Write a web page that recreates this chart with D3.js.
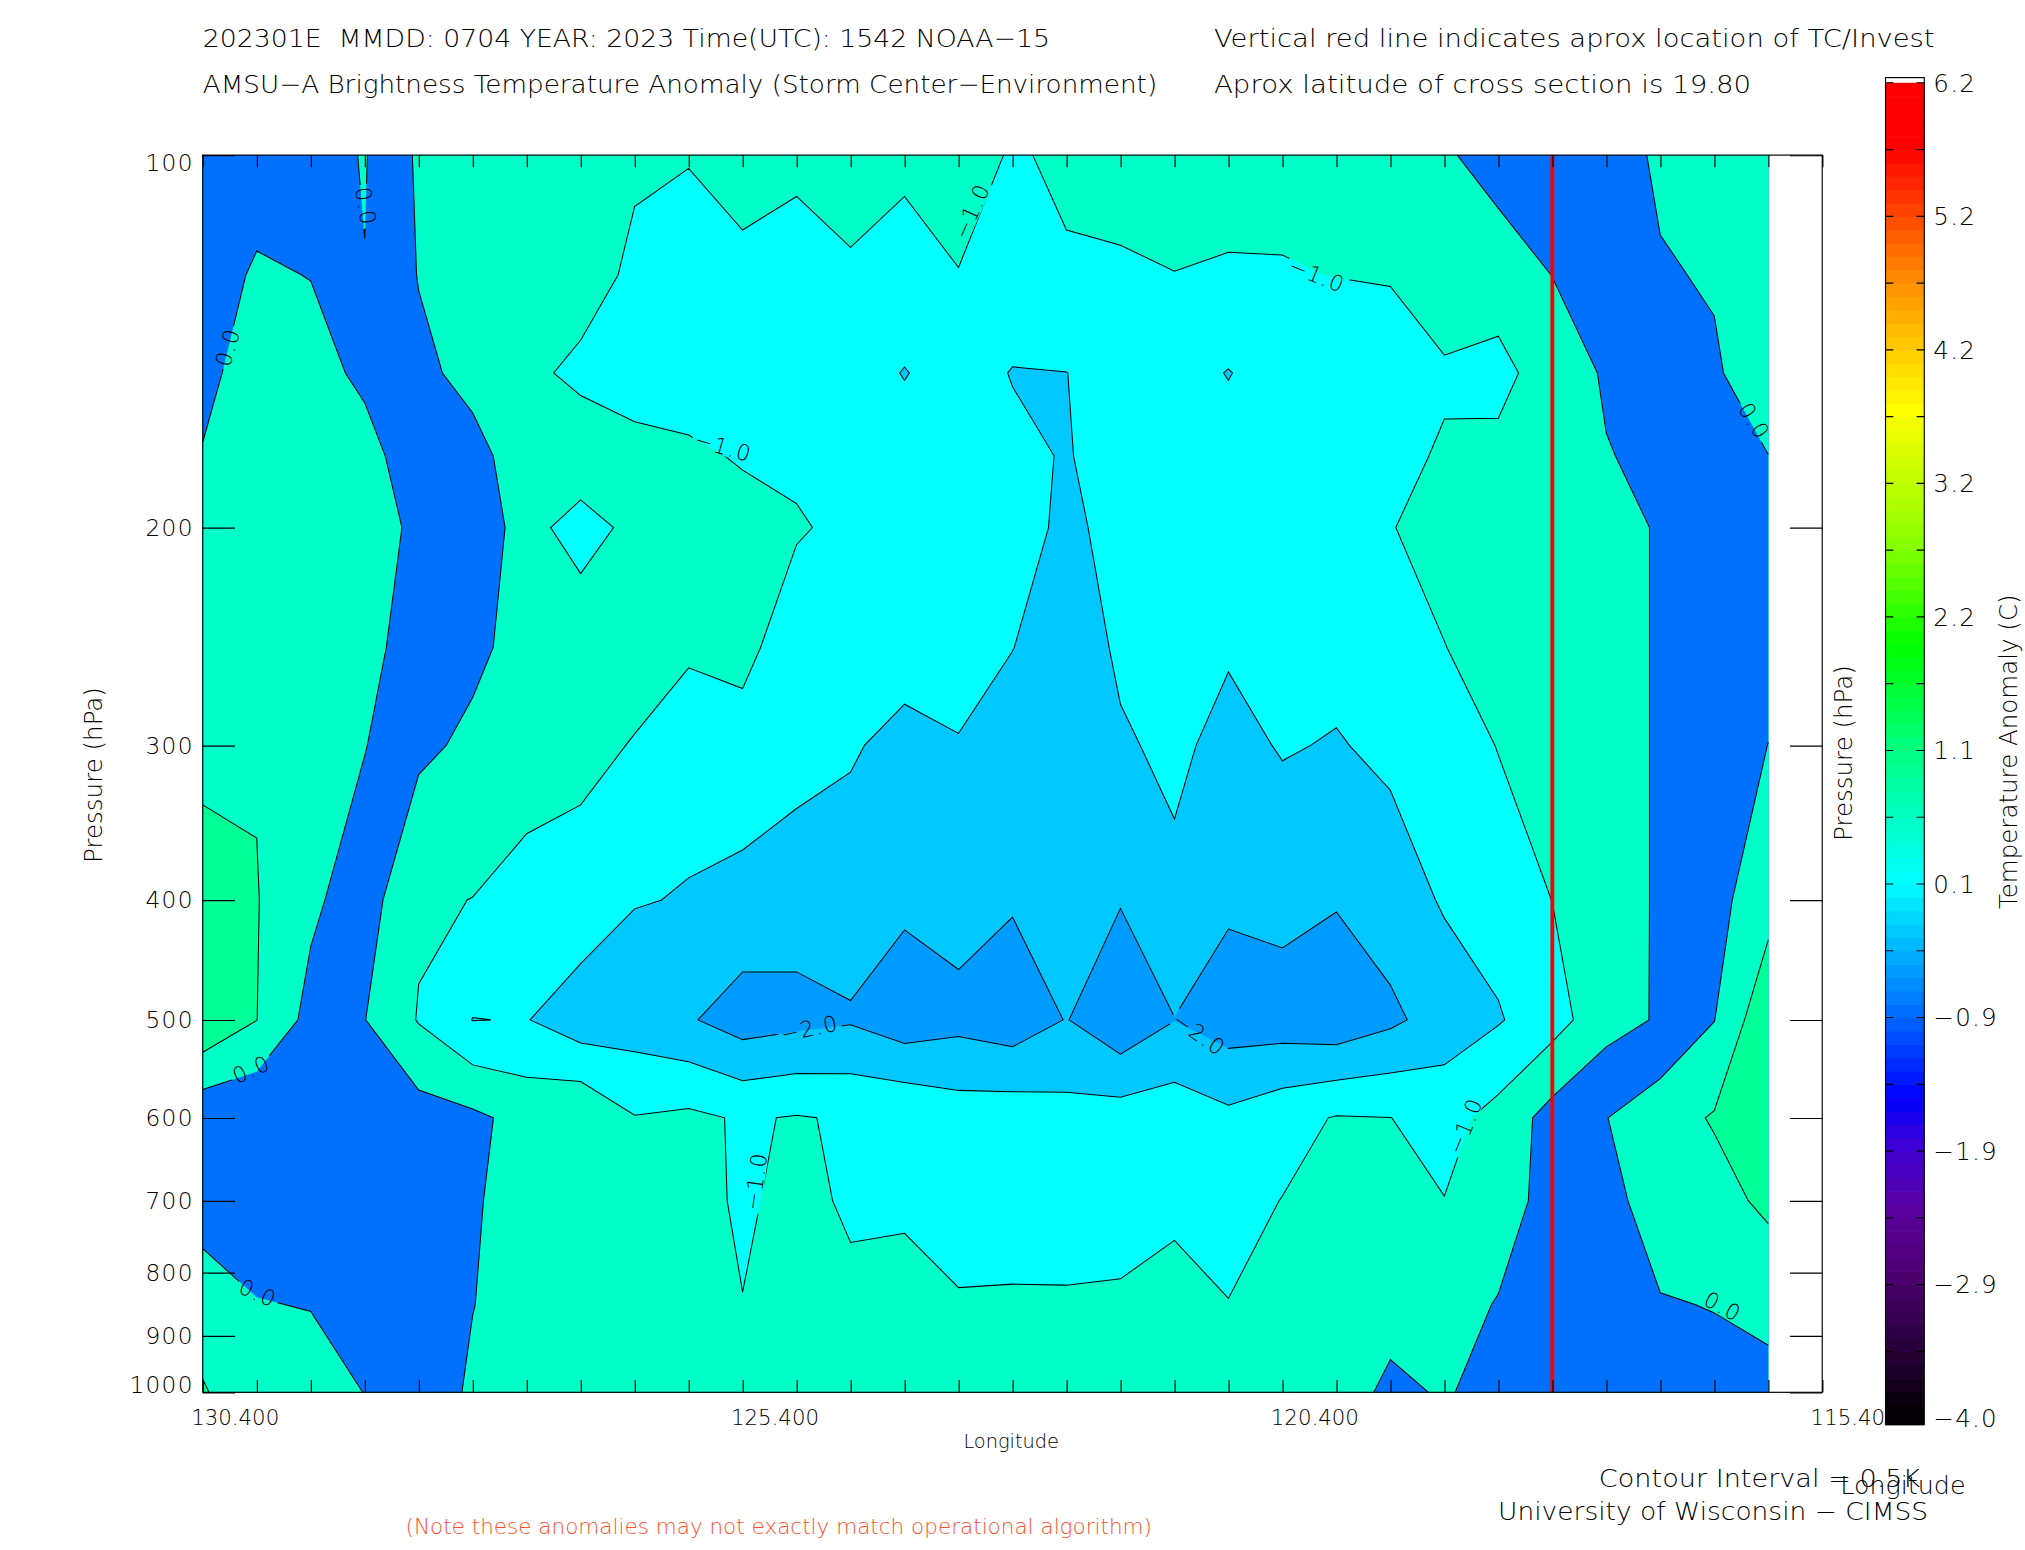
<!DOCTYPE html>
<html>
<head>
<meta charset="utf-8">
<script src="https://cdn.jsdelivr.net/npm/d3@7"></script>
<style>
  body { margin: 0; background: #fff; }
  text { font-family: "DejaVu Sans", sans-serif; font-weight: 200; fill: #000; }
</style>
</head>
<body>
<div id="chart"></div>
<script>
// ---- datos ----

const lons = [130.4, 129.9, 129.4, 128.9, 128.4, 127.9, 127.4, 126.9, 126.4, 125.9,
              125.4, 124.9, 124.4, 123.9, 123.4, 122.9, 122.4, 121.9, 121.4, 120.9,
              120.4, 119.9, 119.4, 118.9, 118.4, 117.9, 117.4, 116.9, 116.4, 115.9]

const levels = [100, 125, 150, 175, 200, 250, 300, 400, 500, 600, 700, 850, 1000]

// anomaly (C) per level, west -> east across the lons above
const anom100  = [-0.3,-0.2,-0.2,0.03,-0.57,-0.7,-0.75,-0.85,-0.9,-0.97,-0.85,-0.9,-0.8,-0.9,-0.85,-1.03,-0.95,-0.9,-0.85,-0.85,-0.85,-0.85,-0.85,-0.6,-0.18,-0.3,-0.3,0.1,0.2,0.3]
const anom125  = [-0.2,0.05,-0.01,-0.013,-0.52,-0.65,-0.78,-0.7,-1.133,-1.24,-1.09,-1.19,-1.06,-1.19,-1.01,-1.2,-1.03,-1.033,-1.005,-1.035,-1.03,-0.99,-0.98,-0.55,-0.9,-0.49,-0.4,-0.05,0.05,0.3]
const anom150  = [-0.05,0.089,0.15,-0.084,-0.395,-0.634,-0.85,-1.15,-1.2,-1.3,-1.3,-1.3,-1.3,-1.52,-1.3,-1.52,-1.505,-1.3,-1.3,-1.52,-1.25,-1.35,-1.15,-1.1,-1.06,-0.9,-0.42,-0.3,-0.07,0.34]
const anom175  = [0.01,0.2,0.25,0.15,-0.245,-0.355,-0.736,-0.6,-0.86,-0.9,-1.05,-1.1,-1.3,-1.3,-1.35,-1.4,-1.53,-1.3,-1.35,-1.3,-1.3,-1.3,-1.2,-0.92,-0.95,-0.8,-0.53,-0.35,-0.3,-0.005]
const anom200  = [0.2,0.3,0.3,0.22,-0.099,-0.05,-0.8,-1.25,-0.84,-0.8,-0.8,-0.95,-1.12,-1.3,-1.35,-1.3,-1.6,-1.35,-1.4,-1.35,-1.35,-1.3,-1.02,-0.82,-0.8,-0.8,-0.7,-0.45,-0.3,-0.2]
const anom250  = [0.3,0.4,0.35,0.1,-0.15,-0.4,-0.663,-0.6,-0.85,-0.9,-0.85,-1.3,-1.3,-1.3,-1.4,-1.49,-1.8,-1.42,-1.45,-1.45,-1.4,-1.35,-1.3,-1.01,-0.8,-0.85,-0.7,-0.45,-0.3,-0.15]
const anom300  = [0.375,0.47,0.3,0.02,-0.4,-0.596,-0.8,-0.9,-1.02,-1.38,-1.207,-1.3,-1.45,-1.645,-1.514,-1.75,-1.85,-1.558,-1.4,-1.65,-1.464,-1.533,-1.396,-1.3,-0.98,-0.9,-0.7,-0.45,-0.3,0.005]
const anom400  = [0.7,0.52,0.1,-0.28,-0.93,-1.008,-1.15,-1.16,-1.48,-1.52,-1.64,-1.79,-1.74,-1.9,-1.786,-1.95,-1.95,-1.97,-1.61,-1.92,-1.827,-1.961,-1.755,-1.45,-1.3,-0.995,-0.7,-0.45,-0.15,0.3]
const anom500  = [0.934,0.505,-0.158,-0.49,-1.03,-1.51,-1.48,-1.8,-1.75,-1.95,-2.24,-2.14,-2.05,-2.3,-2.155,-2.3,-1.98,-2.4,-2.01,-2.25,-2.26,-2.35,-2.1,-1.78,-1.54,-1.2,-0.687,-0.45,-0.01,0.9]
const anom600  = [-0.382,-0.45,-0.3,-0.2,-0.29,-0.4,-0.66,-0.53,-0.98,-0.9,-1.05,-0.97,-1.05,-1.05,-1.245,-1.21,-1.33,-1.26,-1.21,-1.39,-1.17,-0.97,-0.995,-1.17,-0.83,-0.31,-0.01,0.3,0.54,0.8]
const anom700  = [-0.3,-0.3,-0.35,-0.2,-0.2,-0.45,-0.7,-0.7,-0.7,-0.75,-1.1,-0.8,-1.1,-1.15,-1.2,-1.2,-1.2,-1.2,-1.1,-1.15,-0.99,-0.8,-0.8,-0.99,-0.75,-0.3,-0.1,0.15,0.33,0.6]
const anom850  = [0.352,0.024,-0.02,-0.15,-0.2,-0.49,-0.7,-0.7,-0.7,-0.7,-0.986,-0.7,-0.85,-0.67,-0.96,-0.95,-0.953,-0.933,-0.837,-0.99,-0.75,-0.75,-0.7,-0.7,-0.47,-0.3,-0.3,-0.02,0.01,0.145]
const anom1000 = [0.526,0.3,0.25,-0.01,-0.2,-0.575,-0.75,-0.75,-0.75,-0.7,-0.75,-0.7,-0.75,-0.75,-0.75,-0.75,-0.75,-0.75,-0.75,-0.75,-0.75,-0.77,-0.38,-0.55,-0.3,-0.3,-0.3,-0.3,-0.1,-0.17]

const anomaly = [anom100, anom125, anom150, anom175, anom200, anom250, anom300,
                 anom400, anom500, anom600, anom700, anom850, anom1000]

const thresholds = [-2.0, -1.5, -1.0, -0.5, 0.0, 0.5]
const bandColors = ["#009bff", "#00c8ff", "#00ffff", "#00ffc8", "#0070ff", "#00ffc8", "#00ff96"]

const xMajor = [130.4, 125.4, 120.4, 115.4]
const yTicks = [100, 200, 300, 400, 500, 600, 700, 800, 900, 1000]
const stormLon = 117.9

const barLabels = ["6.2", "5.2", "4.2", "3.2", "2.2", "1.1", "0.1", "−0.9", "−1.9", "−2.9", "−4.0"]
const barStops = [[-4.0,"#000000"],[-3.4,"#2c0040"],[-2.9,"#4e0070"],[-2.4,"#5a00a0"],[-1.9,"#3c00d8"],
                  [-1.55,"#0000ff"],[-0.9,"#006eff"],[0.1,"#00ffff"],[1.1,"#00ff82"],[1.9,"#00ff00"],
                  [2.7,"#8cff00"],[3.7,"#ffff00"],[4.2,"#ffc800"],[4.7,"#ff8c00"],[5.2,"#ff4600"],
                  [5.7,"#ff0000"],[6.2,"#ff0000"]]

// contour labels: lon, pressure, text, angle
const contourLabels = [
  [128.89, 110, "0.0", 80], [130.17, 143, "0.0", -74], [129.95, 548, "0.0", -24],
  [129.89, 831, "0.0", 24], [125.58, 172, "−1.0", 16], [123.28, 111, "−1.0", -66],
  [120.08, 125, "−1.0", 22], [125.28, 675, "−1.0", -82], [118.71, 609, "−1.0", -68],
  [124.78, 508, "−2.0", -12], [121.17, 513, "−2.0", 35], [116.03, 164, "0.0", 58],
  [116.32, 852, "0.0", 28]
]

// ---- svg ----

const W = 1568, H = 1200
const plot = {left: 157, right: 1411, top: 120, bottom: 1078}

const svg = d3.select("#chart").append("svg")
    .attr("width", 2025).attr("height", 1550)
    .attr("viewBox", `0 0 ${W} ${H}`)

const x = d3.scaleLinear().domain([130.4, 115.4]).range([plot.left, plot.right])
const y = d3.scaleLog().domain([100, 1000]).range([plot.top, plot.bottom])

// grid index -> pixel (piecewise along the real lon / level positions)
const nx = lons.length, ny = levels.length
const gx = d3.scaleLinear().domain(d3.range(nx)).range(lons.map(x))
const gy = d3.scaleLinear().domain(d3.range(ny)).range(levels.map(y))
const cx = v => Math.max(0, Math.min(nx - 1, v - 0.5))
const cy = v => Math.max(0, Math.min(ny - 1, v - 0.5))
const toPix = p => [gx(cx(p[0])), gy(cy(p[1]))]

const contours = d3.contours().size([nx, ny]).thresholds(thresholds)(anomaly.flat())

const fillGroup = svg.append("g")
fillGroup.append("rect")
    .attr("x", x(lons[0])).attr("y", plot.top)
    .attr("width", x(lons[nx - 1]) - x(lons[0])).attr("height", plot.bottom - plot.top)
    .attr("fill", bandColors[0])

const ringPath = ring => "M" + ring.map(toPix).map(p => p.join(",")).join("L") + "Z"

fillGroup.selectAll("path").data(contours)
  .join("path")
    .attr("fill", (d, i) => bandColors[i + 1])
    .attr("fill-rule", "evenodd")
    .attr("d", d => d.coordinates.map(poly => poly.map(ringPath).join("")).join(""))

// contour lines without the pieces that run along the data border
function openLines(ring) {
  const pts = ring.map(p => [cx(p[0]), cy(p[1])])
  const out = []
  let cur = null
  for (let k = 1; k < pts.length; k++) {
    const p = pts[k - 1], q = pts[k]
    const edge = (p[0] === 0 && q[0] === 0) || (p[0] === nx - 1 && q[0] === nx - 1) ||
                 (p[1] === 0 && q[1] === 0) || (p[1] === ny - 1 && q[1] === ny - 1)
    if (edge) { cur = null; continue }
    if (!cur) { cur = [p]; out.push(cur) }
    cur.push(q)
  }
  return out
}

// gaps in the lines where the labels sit
const mask = svg.append("defs").append("mask").attr("id", "labelGaps")
    .attr("maskUnits", "userSpaceOnUse").attr("x", 0).attr("y", 0).attr("width", W).attr("height", H)
mask.append("rect").attr("width", W).attr("height", H).attr("fill", "#fff")

const line = d3.line().x(p => gx(p[0])).y(p => gy(p[1]))
const lineGroup = svg.append("g").attr("fill", "none").attr("stroke", "#000")
    .attr("stroke-width", 0.8).attr("mask", "url(#labelGaps)")
contours.forEach(c => {
  c.coordinates.forEach(poly => poly.forEach(ring => {
    openLines(ring).forEach(l => lineGroup.append("path").attr("d", line(l)))
  }))
})

// contour labels
const labelTexts = svg.append("g").selectAll("text").data(contourLabels)
  .join("text")
    .attr("transform", d => `translate(${x(d[0])},${y(d[1])}) rotate(${d[3]})`)
    .attr("text-anchor", "middle")
    .attr("dy", "0.36em")
    .style("font-size", "17px").style("letter-spacing", "1px")
    .text(d => d[2])

labelTexts.each(function(d) {
  const w = this.getComputedTextLength() + 4
  mask.append("rect")
      .attr("transform", `translate(${x(d[0])},${y(d[1])}) rotate(${d[3]})`)
      .attr("x", -w / 2).attr("y", -7).attr("width", w).attr("height", 14)
      .attr("fill", "#000")
})

// storm line
svg.append("line")
    .attr("x1", x(stormLon)).attr("x2", x(stormLon))
    .attr("y1", plot.top).attr("y2", plot.bottom)
    .attr("stroke", "#ff0000").attr("stroke-width", 3)

// frame + ticks
svg.append("rect")
    .attr("x", plot.left).attr("y", plot.top)
    .attr("width", plot.right - plot.left).attr("height", plot.bottom - plot.top)
    .attr("fill", "none").attr("stroke", "#000").attr("stroke-width", 0.9)

const xTickVals = d3.range(31).map(i => +(130.4 - 0.5 * i).toFixed(1))
const styleAxis = g => {
  g.select(".domain").remove()
  g.selectAll("line").attr("stroke-width", 0.9)
}
svg.append("g").attr("transform", `translate(0,${plot.bottom})`)
    .call(d3.axisBottom(x).tickValues(xTickVals).tickSize(-9.5).tickFormat(""))
    .call(styleAxis)
svg.append("g").attr("transform", `translate(0,${plot.top})`)
    .call(d3.axisTop(x).tickValues(xTickVals).tickSize(-9.5).tickFormat(""))
    .call(styleAxis)

const yAxisGroup = svg.append("g").attr("transform", `translate(${plot.left},0)`)
    .call(d3.axisLeft(y).tickValues(yTicks).tickSize(-25).tickPadding(7).tickFormat(d3.format("d")))
    .call(styleAxis)
yAxisGroup.selectAll("text")
    .style("font-size", "18px").style("letter-spacing", "1px")
    .attr("y", d => d === 100 ? 6 : d === 1000 ? -6 : 0)
yAxisGroup.attr("font-family", null).attr("font-size", null)

svg.append("g").attr("transform", `translate(${plot.right},0)`)
    .call(d3.axisRight(y).tickValues(yTicks).tickSize(-25).tickFormat(""))
    .call(styleAxis)

svg.append("g").selectAll("text").data(xMajor)
  .join("text")
    .attr("x", d => x(d) - 9)
    .attr("y", 1103)
    .style("font-size", "16.5px")
    .text(d => d.toFixed(3))

// axis titles
svg.append("text").attr("x", 783).attr("y", 1121).attr("text-anchor", "middle")
    .style("font-size", "15px").text("Longitude")
svg.append("text").attr("transform", "translate(79,600) rotate(-90)").attr("text-anchor", "middle")
    .style("font-size", "19px").text("Pressure (hPa)")
svg.append("text").attr("transform", "translate(1434,583) rotate(-90)").attr("text-anchor", "middle")
    .style("font-size", "19px").text("Pressure (hPa)")

// header
const header = [
  [157, 36, 656, "202301E  MMDD: 0704 YEAR: 2023 Time(UTC): 1542 NOAA−15"],
  [157, 72, 739, "AMSU−A Brightness Temperature Anomaly (Storm Center−Environment)"],
  [940, 36, 558, "Vertical red line indicates aprox location of TC/Invest"],
  [940, 72, 416, "Aprox latitude of cross section is 19.80"]
]
svg.append("g").selectAll("text").data(header)
  .join("text")
    .attr("x", d => d[0]).attr("y", d => d[1])
    .attr("textLength", d => d[2]).attr("lengthAdjust", "spacingAndGlyphs")
    .style("font-size", "19.5px").style("white-space", "pre")
    .text(d => d[3])

// footer
svg.append("text").attr("x", 1238).attr("y", 1151).attr("textLength", 249).attr("lengthAdjust", "spacingAndGlyphs")
    .style("font-size", "19px").text("Contour Interval = 0.5K")
svg.append("text").attr("x", 1425).attr("y", 1157).attr("textLength", 97).attr("lengthAdjust", "spacingAndGlyphs")
    .style("font-size", "19px").text("Longitude")
svg.append("text").attr("x", 1160).attr("y", 1177).attr("textLength", 333).attr("lengthAdjust", "spacingAndGlyphs")
    .style("font-size", "19px").text("University of Wisconsin − CIMSS")
svg.append("text").attr("x", 314).attr("y", 1188).attr("textLength", 578).attr("lengthAdjust", "spacingAndGlyphs")
    .style("font-size", "16px").style("fill", "#ff4f28")
    .text("(Note these anomalies may not exactly match operational algorithm)")

// colour bar
const bar = {x: 1460, w: 30, top: 60, bottom: 1103}
const cbY = d3.scaleLinear().domain([6.2, -4.0]).range([64, 1098])
const cbColor = d3.scaleLinear().domain(barStops.map(d => d[0])).range(barStops.map(d => d[1]))
const steps = d3.range(100).map(i => -4.0 + i * 0.102)

const barGroup = svg.append("g")
barGroup.append("rect").attr("x", bar.x).attr("y", bar.top).attr("width", bar.w)
    .attr("height", bar.bottom - bar.top).attr("fill", "#fff")
barGroup.selectAll(".step").data(steps)
  .join("rect").attr("class", "step")
    .attr("x", bar.x)
    .attr("y", d => Math.max(bar.top + 3, cbY(d + 0.102)))
    .attr("width", bar.w)
    .attr("height", d => (d < -3.95 ? bar.bottom : cbY(d)) - Math.max(bar.top + 3, cbY(d + 0.102)) + 0.5)
    .attr("fill", d => cbColor(d + 0.05))
barGroup.append("rect").attr("x", bar.x).attr("y", bar.top).attr("width", bar.w)
    .attr("height", bar.bottom - bar.top).attr("fill", "none").attr("stroke", "#000").attr("stroke-width", 0.9)

const barTickY = d3.range(21).map(i => cbY(6.2 - i * 0.51))
barGroup.selectAll(".tk").data(barTickY)
  .join("path").attr("class", "tk")
    .attr("d", d => `M${bar.x},${d}h6M${bar.x + bar.w},${d}h-6`)
    .attr("stroke", "#000").attr("stroke-width", 0.9)

barGroup.selectAll("text").data(barLabels)
  .join("text")
    .attr("x", 1497)
    .attr("y", (d, i) => cbY(6.2 - i * 1.02))
    .attr("dy", "0.36em")
    .style("font-size", "19px").style("letter-spacing", "1px")
    .text(d => d)

svg.append("text").attr("transform", "translate(1562,582) rotate(-90)").attr("text-anchor", "middle")
    .style("font-size", "19px").text("Temperature Anomaly (C)")
</script>
</body>
</html>
